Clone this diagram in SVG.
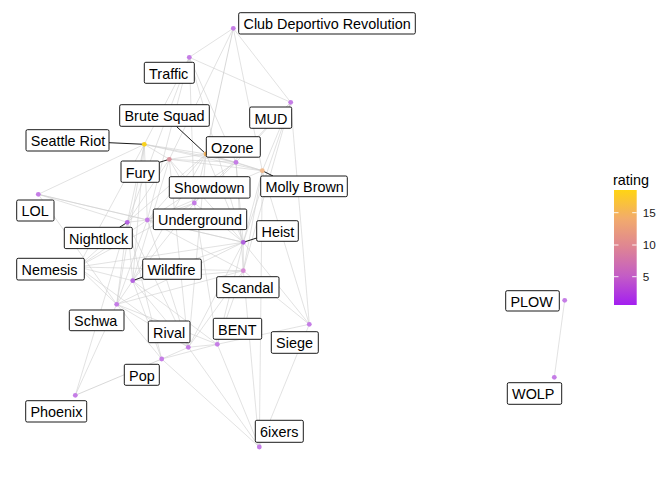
<svg xmlns="http://www.w3.org/2000/svg" width="672" height="480" viewBox="0 0 672 480">
<defs>
<linearGradient id="gr" x1="0" y1="1" x2="0" y2="0">
<stop offset="0" stop-color="#A31FF0"/>
<stop offset="0.25" stop-color="#C35CC6"/>
<stop offset="0.5" stop-color="#DE8494"/>
<stop offset="0.75" stop-color="#F2AB6C"/>
<stop offset="1" stop-color="#FFD414"/>
</linearGradient>
</defs>
<style>
.e{stroke:#cfcfcf;stroke-width:0.6;fill:none}
.b{fill:#ffffff;stroke:#000000;stroke-width:0.9}
.t{font-family:"Liberation Sans",Arial,sans-serif;font-size:14.4px;fill:#000000}
.s{stroke:#000000;stroke-width:0.9}
.p{fill:#C57DE6}
.l{font-family:"Liberation Sans",Arial,sans-serif;font-size:11.7px;fill:#1a1a1a}
.k{stroke:#ffffff;stroke-width:0.9}
</style>
<rect width="672" height="480" fill="#ffffff"/>
<g id="edges">
<line class="e" x1="233.3" y1="28.3" x2="189.3" y2="57.3"/>
<line class="e" x1="233.3" y1="28.3" x2="206" y2="154" style="stroke:#bdbdbd"/>
<line class="e" x1="233.3" y1="28.3" x2="262.3" y2="170.7"/>
<line class="e" x1="233.3" y1="28.3" x2="290.7" y2="102.3"/>
<line class="e" x1="233.3" y1="28.3" x2="169.3" y2="159.3"/>
<line class="e" x1="189.3" y1="57.3" x2="290.7" y2="102.3"/>
<line class="e" x1="189.3" y1="57.3" x2="236" y2="162.3"/>
<line class="e" x1="189.3" y1="57.3" x2="194.3" y2="203"/>
<line class="e" x1="189.3" y1="57.3" x2="127.3" y2="222.3"/>
<line class="e" x1="189.3" y1="57.3" x2="147.3" y2="220"/>
<line class="e" x1="189.3" y1="57.3" x2="243.3" y2="242.3"/>
<line class="e" x1="189.3" y1="57.3" x2="144.3" y2="144.3"/>
<line class="e" x1="290.7" y1="102.3" x2="236" y2="162.3"/>
<line class="e" x1="290.7" y1="102.3" x2="243.3" y2="242.3"/>
<line class="e" x1="290.7" y1="102.3" x2="243.3" y2="270.7"/>
<line class="e" x1="290.7" y1="102.3" x2="309.3" y2="324.3"/>
<line class="e" x1="290.7" y1="102.3" x2="262.3" y2="170.7"/>
<line class="e" x1="290.7" y1="102.3" x2="194.3" y2="203"/>
<line class="e" x1="206" y1="154" x2="144.3" y2="144.3"/>
<line class="e" x1="206" y1="154" x2="169.3" y2="159.3"/>
<line class="e" x1="206" y1="154" x2="236" y2="162.3"/>
<line class="e" x1="206" y1="154" x2="194.3" y2="203"/>
<line class="e" x1="206" y1="154" x2="147.3" y2="220"/>
<line class="e" x1="206" y1="154" x2="127.3" y2="222.3"/>
<line class="e" x1="206" y1="154" x2="262.3" y2="170.7"/>
<line class="e" x1="206" y1="154" x2="243.3" y2="242.3"/>
<line class="e" x1="206" y1="154" x2="132.7" y2="280.7"/>
<line class="e" x1="206" y1="154" x2="188.3" y2="347.3"/>
<line class="e" x1="144.3" y1="144.3" x2="169.3" y2="159.3"/>
<line class="e" x1="144.3" y1="144.3" x2="236" y2="162.3"/>
<line class="e" x1="144.3" y1="144.3" x2="262.3" y2="170.7"/>
<line class="e" x1="144.3" y1="144.3" x2="127.3" y2="222.3"/>
<line class="e" x1="144.3" y1="144.3" x2="147.3" y2="220"/>
<line class="e" x1="144.3" y1="144.3" x2="132.7" y2="280.7"/>
<line class="e" x1="144.3" y1="144.3" x2="38.3" y2="194.3"/>
<line class="e" x1="144.3" y1="144.3" x2="116.7" y2="304.3"/>
<line class="e" x1="144.3" y1="144.3" x2="78" y2="267"/>
<line class="e" x1="169.3" y1="159.3" x2="236" y2="162.3"/>
<line class="e" x1="169.3" y1="159.3" x2="262.3" y2="170.7"/>
<line class="e" x1="169.3" y1="159.3" x2="194.3" y2="203"/>
<line class="e" x1="169.3" y1="159.3" x2="127.3" y2="222.3"/>
<line class="e" x1="169.3" y1="159.3" x2="132.7" y2="280.7"/>
<line class="e" x1="169.3" y1="159.3" x2="188.3" y2="347.3"/>
<line class="e" x1="169.3" y1="159.3" x2="243.3" y2="242.3"/>
<line class="e" x1="236" y1="162.3" x2="262.3" y2="170.7"/>
<line class="e" x1="236" y1="162.3" x2="194.3" y2="203"/>
<line class="e" x1="236" y1="162.3" x2="147.3" y2="220"/>
<line class="e" x1="236" y1="162.3" x2="243.3" y2="270.7"/>
<line class="e" x1="236" y1="162.3" x2="243.3" y2="242.3"/>
<line class="e" x1="262.3" y1="170.7" x2="243.3" y2="242.3"/>
<line class="e" x1="262.3" y1="170.7" x2="243.3" y2="270.7"/>
<line class="e" x1="262.3" y1="170.7" x2="259.3" y2="447"/>
<line class="e" x1="262.3" y1="170.7" x2="147.3" y2="220"/>
<line class="e" x1="262.3" y1="170.7" x2="309.3" y2="324.3"/>
<line class="e" x1="194.3" y1="203" x2="147.3" y2="220"/>
<line class="e" x1="194.3" y1="203" x2="243.3" y2="242.3"/>
<line class="e" x1="194.3" y1="203" x2="78" y2="267"/>
<line class="e" x1="194.3" y1="203" x2="132.7" y2="280.7"/>
<line class="e" x1="194.3" y1="203" x2="217.3" y2="344.3"/>
<line class="e" x1="147.3" y1="220" x2="127.3" y2="222.3"/>
<line class="e" x1="147.3" y1="220" x2="243.3" y2="242.3"/>
<line class="e" x1="147.3" y1="220" x2="116.7" y2="304.3"/>
<line class="e" x1="147.3" y1="220" x2="188.3" y2="347.3"/>
<line class="e" x1="147.3" y1="220" x2="243.3" y2="270.7"/>
<line class="e" x1="147.3" y1="220" x2="78" y2="267"/>
<line class="e" x1="127.3" y1="222.3" x2="38.3" y2="194.3"/>
<line class="e" x1="127.3" y1="222.3" x2="78" y2="267"/>
<line class="e" x1="127.3" y1="222.3" x2="132.7" y2="280.7"/>
<line class="e" x1="127.3" y1="222.3" x2="116.7" y2="304.3"/>
<line class="e" x1="127.3" y1="222.3" x2="188.3" y2="347.3"/>
<line class="e" x1="127.3" y1="222.3" x2="161.7" y2="359"/>
<line class="e" x1="127.3" y1="222.3" x2="75.3" y2="395.3"/>
<line class="e" x1="243.3" y1="242.3" x2="243.3" y2="270.7"/>
<line class="e" x1="243.3" y1="242.3" x2="188.3" y2="347.3"/>
<line class="e" x1="243.3" y1="242.3" x2="217.3" y2="344.3"/>
<line class="e" x1="243.3" y1="242.3" x2="78" y2="267"/>
<line class="e" x1="243.3" y1="242.3" x2="116.7" y2="304.3"/>
<line class="e" x1="243.3" y1="242.3" x2="132.7" y2="280.7"/>
<line class="e" x1="243.3" y1="242.3" x2="309.3" y2="324.3"/>
<line class="e" x1="38.3" y1="194.3" x2="243.3" y2="242.3"/>
<line class="e" x1="38.3" y1="194.3" x2="116.7" y2="304.3"/>
<line class="e" x1="38.3" y1="194.3" x2="147.3" y2="220"/>
<line class="e" x1="78" y1="267" x2="132.7" y2="280.7"/>
<line class="e" x1="78" y1="267" x2="116.7" y2="304.3"/>
<line class="e" x1="78" y1="267" x2="188.3" y2="347.3"/>
<line class="e" x1="78" y1="267" x2="243.3" y2="270.7"/>
<line class="e" x1="132.7" y1="280.7" x2="116.7" y2="304.3"/>
<line class="e" x1="132.7" y1="280.7" x2="188.3" y2="347.3"/>
<line class="e" x1="132.7" y1="280.7" x2="161.7" y2="359"/>
<line class="e" x1="132.7" y1="280.7" x2="217.3" y2="344.3"/>
<line class="e" x1="132.7" y1="280.7" x2="243.3" y2="270.7"/>
<line class="e" x1="243.3" y1="270.7" x2="217.3" y2="344.3"/>
<line class="e" x1="243.3" y1="270.7" x2="188.3" y2="347.3"/>
<line class="e" x1="243.3" y1="270.7" x2="309.3" y2="324.3"/>
<line class="e" x1="243.3" y1="270.7" x2="116.7" y2="304.3"/>
<line class="e" x1="243.3" y1="270.7" x2="259.3" y2="447"/>
<line class="e" x1="116.7" y1="304.3" x2="188.3" y2="347.3"/>
<line class="e" x1="116.7" y1="304.3" x2="75.3" y2="395.3"/>
<line class="e" x1="116.7" y1="304.3" x2="161.7" y2="359"/>
<line class="e" x1="116.7" y1="304.3" x2="217.3" y2="344.3"/>
<line class="e" x1="188.3" y1="347.3" x2="217.3" y2="344.3"/>
<line class="e" x1="188.3" y1="347.3" x2="161.7" y2="359"/>
<line class="e" x1="188.3" y1="347.3" x2="259.3" y2="447"/>
<line class="e" x1="217.3" y1="344.3" x2="309.3" y2="324.3"/>
<line class="e" x1="217.3" y1="344.3" x2="161.7" y2="359"/>
<line class="e" x1="217.3" y1="344.3" x2="259.3" y2="447"/>
<line class="e" x1="309.3" y1="324.3" x2="259.3" y2="447"/>
<line class="e" x1="161.7" y1="359" x2="75.3" y2="395.3" style="stroke:#bdbdbd"/>
<line class="e" x1="161.7" y1="359" x2="259.3" y2="447"/>
<line class="e" x1="564.7" y1="300.3" x2="554.3" y2="377.3"/>
</g>
<g id="node-club-deportivo-revolution">
<circle class="p" cx="233.3" cy="28.3" r="2.4"/>
<rect class="b" x="238.7" y="12.7" width="176.6" height="21.3" rx="1.5"/>
<text class="t" x="243.5" y="29.3">Club Deportivo Revolution</text>
</g>
<g id="node-traffic">
<circle class="p" cx="189.3" cy="57.3" r="2.4"/>
<rect class="b" x="144.3" y="62.3" width="50" height="21" rx="1.5"/>
<text class="t" x="149.1" y="78.6">Traffic</text>
</g>
<g id="node-mud">
<circle class="p" cx="290.7" cy="102.3" r="2.4"/>
<rect class="b" x="249.7" y="107" width="42" height="21.3" rx="1.5"/>
<text class="t" x="254.5" y="123.6">MUD</text>
</g>
<g id="node-brute-squad">
<line class="s" x1="176.7" y1="126.7" x2="206" y2="154"/>
<circle cx="206" cy="154" r="2.4" fill="#F2B35E"/>
<rect class="b" x="119.7" y="104.7" width="89.6" height="21.6" rx="1.5"/>
<text class="t" x="124.5" y="121.2">Brute Squad</text>
</g>
<g id="node-seattle-riot">
<line class="s" x1="109" y1="142.7" x2="144.3" y2="144.3"/>
<circle cx="144.3" cy="144.3" r="2.4" fill="#F9D21E"/>
<rect class="b" x="26" y="129.7" width="83" height="21.3" rx="1.5"/>
<text class="t" x="30.8" y="146.3">Seattle Riot</text>
</g>
<g id="node-ozone">
<circle class="p" cx="236" cy="162.3" r="2.4"/>
<rect class="b" x="206.3" y="136.7" width="54" height="20.5" rx="1.5"/>
<text class="t" x="211.1" y="152.7">Ozone</text>
</g>
<g id="node-fury">
<line class="s" x1="159.3" y1="162.3" x2="169.3" y2="159.3"/>
<circle cx="169.3" cy="159.3" r="2.4" fill="#D9949F"/>
<rect class="b" x="121" y="161" width="38.3" height="21.3" rx="1.5"/>
<text class="t" x="125.8" y="177.6">Fury</text>
</g>
<g id="node-molly-brown">
<line class="s" x1="262.3" y1="170.7" x2="273" y2="176"/>
<circle cx="262.3" cy="170.7" r="2.4" fill="#F2BB8E"/>
<rect class="b" x="260.7" y="176" width="86.6" height="20.7" rx="1.5"/>
<text class="t" x="265.5" y="192.2">Molly Brown</text>
</g>
<g id="node-showdown">
<circle class="p" cx="194.3" cy="203" r="2.4"/>
<rect class="b" x="169.3" y="176.7" width="80.7" height="21.4" rx="1.5"/>
<text class="t" x="174.1" y="193.3">Showdown</text>
</g>
<g id="node-underground">
<circle class="p" cx="147.3" cy="220" r="2.4"/>
<rect class="b" x="153.3" y="209" width="93.4" height="20.6" rx="1.5"/>
<text class="t" x="158.1" y="225.3">Underground</text>
</g>
<g id="node-nightlock">
<line class="s" x1="119.5" y1="227.3" x2="127.3" y2="222.3"/>
<circle cx="127.3" cy="222.3" r="2.4" fill="#B565E0"/>
<rect class="b" x="64.3" y="227.3" width="68" height="21.3" rx="1.5"/>
<text class="t" x="69.1" y="243.9">Nightlock</text>
</g>
<g id="node-heist">
<line class="s" x1="243.3" y1="242.3" x2="256.7" y2="238"/>
<circle cx="243.3" cy="242.3" r="2.4" fill="#B062DE"/>
<rect class="b" x="256.7" y="220.7" width="41.6" height="20.6" rx="1.5"/>
<text class="t" x="261.5" y="236.9">Heist</text>
</g>
<g id="node-lol">
<circle class="p" cx="38.3" cy="194.3" r="2.4"/>
<rect class="b" x="16.7" y="200" width="37.3" height="21" rx="1.5"/>
<text class="t" x="21.5" y="216.4">LOL</text>
</g>
<g id="node-nemesis">
<circle class="p" cx="78" cy="267" r="2.4"/>
<rect class="b" x="16.7" y="258.3" width="67.6" height="21.7" rx="1.5"/>
<text class="t" x="21.5" y="275">Nemesis</text>
</g>
<g id="node-wildfire">
<line class="s" x1="132.7" y1="280.7" x2="142.7" y2="277"/>
<circle cx="132.7" cy="280.7" r="2.4" fill="#B565E0"/>
<rect class="b" x="142.7" y="259" width="58.6" height="20.3" rx="1.5"/>
<text class="t" x="147.5" y="275">Wildfire</text>
</g>
<g id="node-scandal">
<circle cx="243.3" cy="270.7" r="2.4" fill="#D98CD6"/>
<rect class="b" x="216.7" y="276.7" width="62.3" height="21" rx="1.5"/>
<text class="t" x="221.5" y="293">Scandal</text>
</g>
<g id="node-schwa">
<circle class="p" cx="116.7" cy="304.3" r="2.4"/>
<rect class="b" x="69.3" y="310" width="54.7" height="20.7" rx="1.5"/>
<text class="t" x="74.1" y="326.2">Schwa</text>
</g>
<g id="node-rival">
<circle class="p" cx="188.3" cy="347.3" r="2.4"/>
<rect class="b" x="148.3" y="321" width="41.7" height="21.7" rx="1.5"/>
<text class="t" x="153.1" y="337.6">Rival</text>
</g>
<g id="node-bent">
<circle class="p" cx="217.3" cy="344.3" r="2.4"/>
<rect class="b" x="213.3" y="318.3" width="48.4" height="21" rx="1.5"/>
<text class="t" x="218.1" y="334.7">BENT</text>
</g>
<g id="node-siege">
<circle class="p" cx="309.3" cy="324.3" r="2.4"/>
<rect class="b" x="271.3" y="331.7" width="47" height="21.6" rx="1.5"/>
<text class="t" x="276.1" y="348.3">Siege</text>
</g>
<g id="node-pop">
<circle class="p" cx="161.7" cy="359" r="2.4"/>
<rect class="b" x="124.3" y="364.3" width="35" height="21" rx="1.5"/>
<text class="t" x="129.1" y="380.7">Pop</text>
</g>
<g id="node-phoenix">
<circle class="p" cx="75.3" cy="395.3" r="2.4"/>
<rect class="b" x="25.7" y="400.7" width="61" height="21.3" rx="1.5"/>
<text class="t" x="30.5" y="417.2">Phoenix</text>
</g>
<g id="node-6ixers">
<circle class="p" cx="259.3" cy="447" r="2.4"/>
<rect class="b" x="255.3" y="420.3" width="48" height="22" rx="1.5"/>
<text class="t" x="260.1" y="437.3">6ixers</text>
</g>
<g id="node-plow">
<circle class="p" cx="564.7" cy="300.3" r="2.4"/>
<rect class="b" x="505.7" y="290.7" width="53.6" height="20.3" rx="1.5"/>
<text class="t" x="510.5" y="306.6">PLOW</text>
</g>
<g id="node-wolp">
<circle class="p" cx="554.3" cy="377.3" r="2.4"/>
<rect class="b" x="507.3" y="382.7" width="54.4" height="21.6" rx="1.5"/>
<text class="t" x="512.1" y="399.2">WOLP</text>
</g>
<g id="legend">
<text class="t" x="613" y="184.5">rating</text>
<rect x="614" y="190" width="22.7" height="115" fill="url(#gr)"/>
<line class="k" x1="614" y1="212.7" x2="618.5" y2="212.7"/>
<line class="k" x1="632.2" y1="212.7" x2="636.7" y2="212.7"/>
<line class="k" x1="614" y1="245" x2="618.5" y2="245"/>
<line class="k" x1="632.2" y1="245" x2="636.7" y2="245"/>
<line class="k" x1="614" y1="276.7" x2="618.5" y2="276.7"/>
<line class="k" x1="632.2" y1="276.7" x2="636.7" y2="276.7"/>
<text class="l" x="642.7" y="216.9">15</text>
<text class="l" x="642.7" y="249.2">10</text>
<text class="l" x="642.7" y="280.9">5</text>
</g>
</svg>
